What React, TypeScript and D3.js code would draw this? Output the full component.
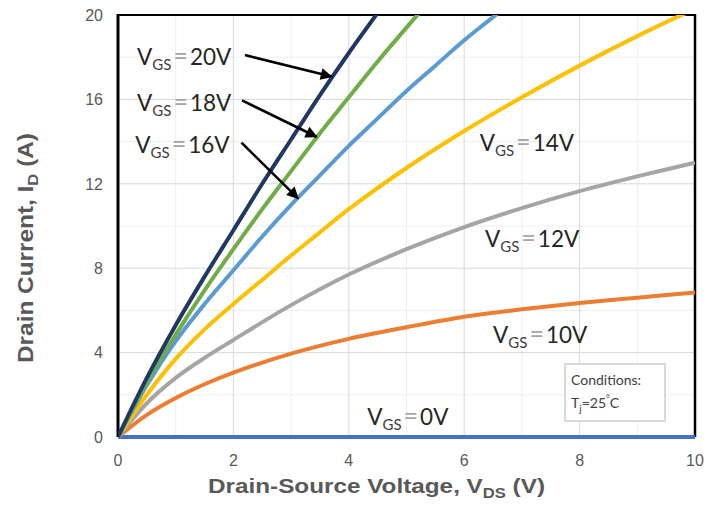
import React from "react";
import * as d3 from "d3";

// Output characteristics, VDS (V) vs ID (A)
const vgs20: [number, number][] = [[0, 0], [0.5, 2.8], [1, 5.3], [1.5, 7.6], [2, 9.8], [2.5, 12.0], [3, 14.1], [3.5, 16.2], [4, 18.2], [4.5, 20.1]];
const vgs18: [number, number][] = [[0, 0], [0.5, 2.6], [1, 4.85], [1.5, 6.95], [2, 8.9], [2.5, 10.8], [3, 12.6], [3.5, 14.4], [4, 16.1], [4.5, 17.8], [5, 19.4], [5.5, 21.0]];
const vgs16: [number, number][] = [[0, 0], [0.5, 2.45], [1, 4.55], [1.5, 6.3], [2, 7.9], [2.5, 9.5], [3, 11.0], [3.5, 12.4], [4, 13.8], [4.5, 15.1], [5, 16.4], [5.5, 17.6], [6, 18.8], [6.5, 19.9], [7, 21.0]];
const vgs14: [number, number][] = [[0, 0], [0.5, 2.0], [1, 3.7], [1.5, 5.1], [2, 6.3], [2.5, 7.45], [3, 8.6], [3.5, 9.7], [4, 10.8], [5, 12.75], [6, 14.5], [7, 16.1], [8, 17.6], [9, 19.0], [10, 20.3]];
const vgs12: [number, number][] = [[0, 0], [0.5, 1.6], [1, 2.8], [1.5, 3.75], [2, 4.6], [3, 6.25], [4, 7.7], [5, 8.9], [6, 9.95], [7, 10.85], [8, 11.65], [9, 12.35], [10, 13.0]];
const vgs10: [number, number][] = [[0, 0], [0.5, 1.05], [1, 1.85], [1.5, 2.5], [2, 3.05], [3, 3.95], [4, 4.65], [5, 5.2], [6, 5.7], [7, 6.05], [8, 6.35], [9, 6.6], [10, 6.85]];
const vgs0: [number, number][] = [[0, 0], [10, 0]];

const xTicks = [0, 2, 4, 6, 8, 10];
const yTicks = [0, 4, 8, 12, 16, 20];
const xMinor = [1, 3, 5, 7, 9];
const yMinor = [2, 6, 10, 14, 18];

// label anchor (V, I) for each curve's text
const labels: { text: string; at: [number, number] }[] = [
  { text: "20V", at: [0.33, 17.63] },
  { text: "18V", at: [0.33, 15.45] },
  { text: "16V", at: [0.3, 13.47] },
  { text: "14V", at: [6.27, 13.55] },
  { text: "12V", at: [6.36, 9.0] },
  { text: "10V", at: [6.5, 4.44] },
  { text: "0V", at: [4.32, 0.57] },
];

// arrows: from, to in data units
const arrows: [number, number][][] = [
  [[2.2, 18.1], [3.7, 17.08]],
  [[2.15, 15.95], [3.44, 14.23]],
  [[2.14, 13.95], [3.12, 11.31]],
];

const series = [
  { data: vgs0, color: "#4472C4" },
  { data: vgs10, color: "#ED7D31" },
  { data: vgs12, color: "#A5A5A5" },
  { data: vgs14, color: "#FFC000" },
  { data: vgs16, color: "#5B9BD5" },
  { data: vgs18, color: "#70AD47" },
  { data: vgs20, color: "#203864" },
];

const W = 710;
const H = 506;
const left = 118, right = 695, top = 15, bottom = 437;

export default function App() {
  const x = d3.scaleLinear().domain([0, 10]).range([left, right]);
  const y = d3.scaleLinear().domain([0, 20]).range([bottom, top]);
  const line = d3.line<[number, number]>().x(d => x(d[0])).y(d => y(d[1])).curve(d3.curveCatmullRom.alpha(0.5));

  const tickFont = "'Liberation Sans', Arial, sans-serif";
  const labelFont = "Lato, 'Open Sans', sans-serif";

  return (
    <div style={{ position: "absolute", left: 0, top: 0 }}>
      <style>{"body{margin:0}"}</style>
      <svg width={W} height={H} style={{ display: "block", background: "#fff" }}>
        <defs>
          <clipPath id="plot-clip">
            <rect x={left} y={top} width={right - left} height={bottom - top + 2.5} />
          </clipPath>
          <marker id="arrow-head" viewBox="0 0 10 10" refX="9" refY="5" markerWidth="5.5" markerHeight="4.6" orient="auto" markerUnits="strokeWidth">
            <path d="M0,0 L10,5 L0,10 z" fill="#000" />
          </marker>
        </defs>

        {/* grid */}
        {xMinor.map(v => (
          <line key={"xm" + v} x1={x(v)} x2={x(v)} y1={top} y2={bottom} stroke="#eeeeee" strokeWidth={1} />
        ))}
        {yMinor.map(v => (
          <line key={"ym" + v} x1={left} x2={right} y1={y(v)} y2={y(v)} stroke="#eeeeee" strokeWidth={1} />
        ))}
        {xTicks.map(v => (
          <line key={"xg" + v} x1={x(v)} x2={x(v)} y1={top} y2={bottom} stroke="#d9d9d9" strokeWidth={1} />
        ))}
        {yTicks.map(v => (
          <line key={"yg" + v} x1={left} x2={right} y1={y(v)} y2={y(v)} stroke="#d9d9d9" strokeWidth={1} />
        ))}

        {/* frame */}
        <line x1={left} x2={right} y1={top} y2={top} stroke="#000" strokeWidth={2} />
        <line x1={left} x2={left} y1={top - 1} y2={bottom} stroke="#000" strokeWidth={3} />
        <line x1={right} x2={right} y1={top - 1} y2={bottom} stroke="#000" strokeWidth={2.5} />

        {/* curves */}
        <g clipPath="url(#plot-clip)">
          {series.map((s, i) => (
            <path key={i} d={line(s.data) || ""} fill="none" stroke={s.color} strokeWidth={4} strokeLinejoin="round" />
          ))}
        </g>

        {/* tick labels */}
        {yTicks.map(v => (
          <text key={"yt" + v} x={left - 15} y={y(v)} dy="0.36em" textAnchor="end" fontFamily={tickFont} fontSize={16} fill="#595959">{v}</text>
        ))}
        {xTicks.map(v => (
          <text key={"xt" + v} x={x(v)} y={bottom + 29} textAnchor="middle" fontFamily={tickFont} fontSize={16} fill="#595959">{v}</text>
        ))}

        {/* axis titles */}
        <text x={208} y={493} textLength={337} lengthAdjust="spacingAndGlyphs" fontFamily={tickFont} fontWeight="bold" fontSize={20.5} fill="#595959">
          Drain-Source Voltage, V<tspan fontSize={14} dy={5}>DS</tspan><tspan dy={-5}> (V)</tspan>
        </text>
        <text transform="translate(33,363) rotate(-90)" textLength={230} lengthAdjust="spacingAndGlyphs" fontFamily={tickFont} fontWeight="bold" fontSize={22} fill="#595959">
          Drain Current, I<tspan fontSize={15} dy={5}>D</tspan><tspan dy={-5}> (A)</tspan>
        </text>

        {/* curve labels */}
        {labels.map(l => (
          <text key={l.text} x={x(l.at[0])} y={y(l.at[1])} fontFamily={labelFont} fontSize={22.5} fill="#262626">
            V<tspan fontSize={15} dy={5} fill="#404040">GS</tspan>
            <tspan dy={-5} dx={2} fontSize={25} fill="#a6a6a6">=</tspan>
            <tspan dx={2}>{l.text}</tspan>
          </text>
        ))}

        {/* arrows */}
        {arrows.map((a, i) => (
          <line key={"ar" + i} x1={x(a[0][0])} y1={y(a[0][1])} x2={x(a[1][0])} y2={y(a[1][1])} stroke="#000" strokeWidth={2.6} markerEnd="url(#arrow-head)" />
        ))}

        {/* conditions box */}
        <rect x={565} y={364} width={100} height={57} fill="#fff" stroke="#d9d9d9" strokeWidth={2} />
        <text x={571} y={385} fontFamily={labelFont} fontSize={14} fill="#404040">Conditions:</text>
        <text x={571} y={408} fontFamily={labelFont} fontSize={14} fill="#404040">
          T<tspan fontSize={10} dy={4}>j</tspan><tspan dy={-4}>=25</tspan><tspan fontSize={9} dy={-6}>°</tspan><tspan dy={6}>C</tspan>
        </text>
      </svg>
    </div>
  );
}
